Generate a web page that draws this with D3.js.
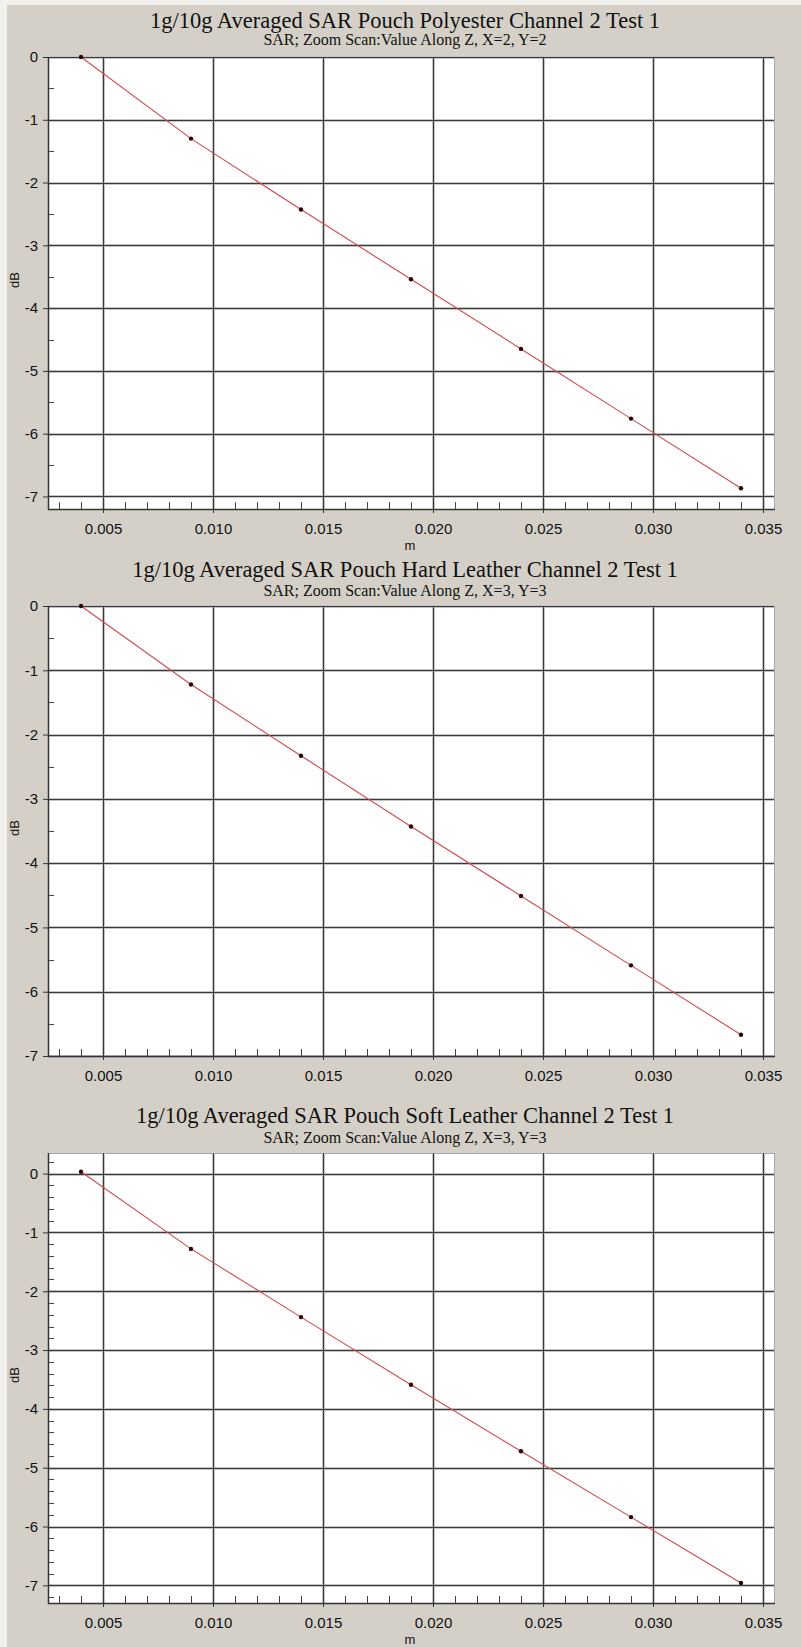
<!DOCTYPE html>
<html>
<head>
<meta charset="utf-8">
<script src="https://cdn.jsdelivr.net/npm/d3@7"></script>
<style>
body { margin: 0; background: #d4d0c8; }
.tick text { font-family: "Liberation Sans", Arial, sans-serif; font-size: 15px; fill: #111; }
.tick line { stroke: #333; }
.title { font-family: "Liberation Serif", "Times New Roman", serif; fill: #111; }
.unit { font-family: "Liberation Sans", Arial, sans-serif; font-size: 13px; fill: #111; }
</style>
</head>
<body>
<div id="chart"></div>
<script>
var width = 801,
    height = 1647;

// distance along z (m)
var zPos = [0.004, 0.009, 0.014, 0.019, 0.024, 0.029, 0.034];

// SAR in dB
var polyester = [0, -1.30, -2.43, -3.54, -4.65, -5.76, -6.87];
var hardLeather = [0, -1.22, -2.33, -3.43, -4.51, -5.59, -6.67];
var softLeather = [0.03, -1.28, -2.44, -3.59, -4.72, -5.84, -6.96];

var titles = [
    '1g/10g Averaged SAR Pouch Polyester Channel 2 Test 1',
    '1g/10g Averaged SAR Pouch Hard Leather Channel 2 Test 1',
    '1g/10g Averaged SAR Pouch Soft Leather Channel 2 Test 1'
];
var subtitles = [
    'SAR; Zoom Scan:Value Along Z, X=2, Y=2',
    'SAR; Zoom Scan:Value Along Z, X=3, Y=3',
    'SAR; Zoom Scan:Value Along Z, X=3, Y=3'
];

var xTicks = [0.005, 0.010, 0.015, 0.020, 0.025, 0.030, 0.035];
var yTicks = [0, -1, -2, -3, -4, -5, -6, -7];

var series = [polyester, hardLeather, softLeather];

// layout of each panel on the page
var layout = [
    {top: 57, bottom: 509, yDomain: [-7.2, 0], minor: 0.5, titleY: 28, subY: 45, unitLabel: true},
    {top: 606, bottom: 1056, yDomain: [-7, 0], minor: 0.5, titleY: 577, subY: 596, unitLabel: false},
    {top: 1153, bottom: 1603, yDomain: [-7.3, 0.35], minor: 0.2, titleY: 1123, subY: 1143, unitLabel: true}
];

var left = 48,
    right = 774,
    centerX = 405;

var svg = d3.select('#chart')
    .append('svg')
    .attr('width', width)
    .attr('height', height);

svg.append('rect')
    .attr('width', width)
    .attr('height', height)
    .attr('fill', '#d4d0c8');
svg.append('rect')
    .attr('width', width)
    .attr('height', 5)
    .attr('fill', '#f2f1ee');
svg.append('rect')
    .attr('width', 7)
    .attr('height', height)
    .attr('fill', '#f2f1ee');

var x = d3.scaleLinear()
    .domain([0.0025, 0.0355])
    .range([left, right]);

var xMinor = d3.range(3, 36)
    .filter(i => i % 5 !== 0)
    .map(i => i / 1000);

function drawPanel(p, i) {
    var values = series[i];
    var y = d3.scaleLinear()
        .domain(p.yDomain)
        .range([p.bottom, p.top]);

    var g = svg.append('g');

    g.append('text')
        .attr('class', 'title')
        .attr('x', centerX)
        .attr('y', p.titleY)
        .attr('text-anchor', 'middle')
        .style('font-size', '22.5px')
        .text(titles[i]);

    g.append('text')
        .attr('class', 'title')
        .attr('x', centerX)
        .attr('y', p.subY)
        .attr('text-anchor', 'middle')
        .style('font-size', '16px')
        .text(subtitles[i]);

    g.append('rect')
        .attr('x', left + 0.5)
        .attr('y', p.top + 0.5)
        .attr('width', right - left)
        .attr('height', p.bottom - p.top)
        .attr('fill', '#fff')
        .attr('stroke', '#a8a8a8');

    var yMajor = yTicks.filter(d => d >= p.yDomain[0] && d <= p.yDomain[1]);
    var step = p.minor;
    var yMinor = d3.range(Math.ceil(p.yDomain[0] / step), Math.floor(p.yDomain[1] / step) + 1)
        .map(k => +(k * step).toFixed(2))
        .filter(d => d % 1 !== 0);

    // grid: soft halo under a dark core
    var grid = g.append('g');
    [['#c4c4c4', 3], ['#3a3a3a', 1]].forEach(s => {
        grid.selectAll(null)
            .data(xTicks)
            .enter()
            .append('line')
            .attr('x1', d => Math.round(x(d)) + 0.5)
            .attr('x2', d => Math.round(x(d)) + 0.5)
            .attr('y1', p.top)
            .attr('y2', p.bottom)
            .attr('stroke', s[0])
            .attr('stroke-width', s[1]);
        grid.selectAll(null)
            .data(yMajor)
            .enter()
            .append('line')
            .attr('x1', left)
            .attr('x2', right)
            .attr('y1', d => Math.round(y(d)) + 0.5)
            .attr('y2', d => Math.round(y(d)) + 0.5)
            .attr('stroke', s[0])
            .attr('stroke-width', s[1]);
    });

    // minor ticks inside the frame
    g.selectAll(null)
        .data(xMinor)
        .enter()
        .append('line')
        .attr('x1', d => Math.round(x(d)) + 0.5)
        .attr('x2', d => Math.round(x(d)) + 0.5)
        .attr('y1', p.bottom)
        .attr('y2', p.bottom - 7)
        .attr('stroke', '#444');
    g.selectAll(null)
        .data(yMinor)
        .enter()
        .append('line')
        .attr('x1', left)
        .attr('x2', left + 6)
        .attr('y1', d => Math.round(y(d)) + 0.5)
        .attr('y2', d => Math.round(y(d)) + 0.5)
        .attr('stroke', '#444');

    var xAxis = d3.axisBottom(x)
        .tickValues(xTicks)
        .tickFormat(d => d.toFixed(3))
        .tickSize(4)
        .tickPadding(10);
    g.append('g')
        .attr('transform', 'translate(0,' + p.bottom + ')')
        .call(xAxis)
        .call(a => a.select('.domain').remove());

    var yAxis = d3.axisLeft(y)
        .tickValues(yMajor)
        .tickFormat(d => String(d))
        .tickSize(5)
        .tickPadding(5);
    g.append('g')
        .attr('transform', 'translate(' + left + ',0)')
        .call(yAxis)
        .call(a => a.select('.domain').remove());

    // axis lines
    g.append('line')
        .attr('x1', left + 0.5)
        .attr('x2', left + 0.5)
        .attr('y1', p.top)
        .attr('y2', p.bottom + 1)
        .attr('stroke', '#333')
        .attr('stroke-width', 1.5);
    g.append('line')
        .attr('x1', left)
        .attr('x2', right + 1)
        .attr('y1', p.bottom + 0.5)
        .attr('y2', p.bottom + 0.5)
        .attr('stroke', '#333')
        .attr('stroke-width', 1.5);

    var line = d3.line()
        .x((d, k) => x(zPos[k]))
        .y(d => y(d));

    g.append('path')
        .datum(values)
        .attr('d', line)
        .attr('fill', 'none')
        .attr('stroke', '#d24a4a')
        .attr('stroke-width', 1.1);

    g.selectAll('circle')
        .data(values)
        .enter()
        .append('circle')
        .attr('cx', (d, k) => x(zPos[k]))
        .attr('cy', d => y(d))
        .attr('r', 2.2)
        .attr('fill', '#2a0606');

    g.append('text')
        .attr('class', 'unit')
        .attr('transform', 'translate(19,' + ((p.top + p.bottom) / 2 - 3) + ')rotate(-90)')
        .attr('text-anchor', 'middle')
        .text('dB');

    if (p.unitLabel) {
        g.append('text')
            .attr('class', 'unit')
            .attr('x', 410)
            .attr('y', p.bottom + 41)
            .attr('text-anchor', 'middle')
            .text('m');
    }
}

layout.forEach(drawPanel);
</script>
</body>
</html>
